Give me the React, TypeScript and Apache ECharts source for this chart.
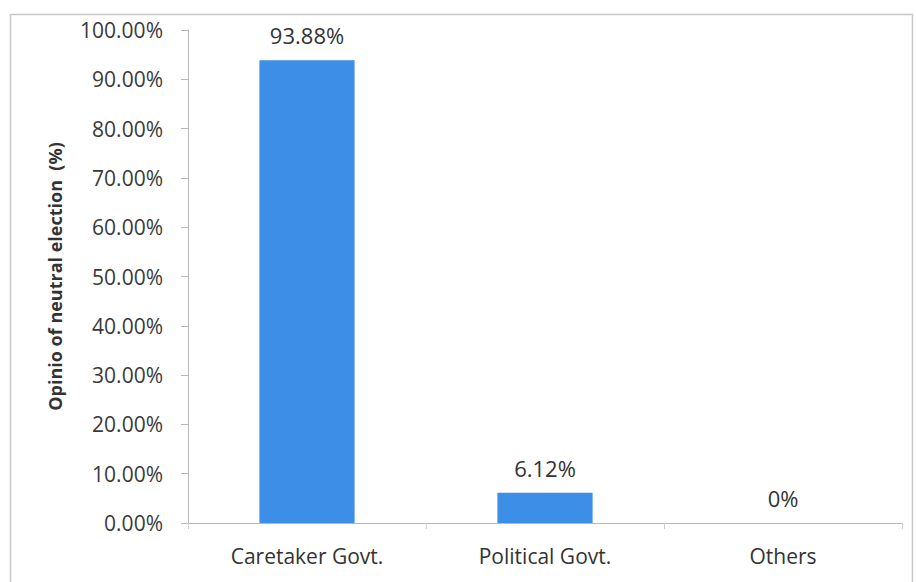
import React, { useEffect, useRef } from "react";
import * as echarts from "echarts";

const categories = ["Caretaker Govt.", "Political Govt.", "Others"];
const values = [93.88, 6.12, 0];
const valueLabels = ["93.88%", "6.12%", "0%"];
const yTicks = [0, 10, 20, 30, 40, 50, 60, 70, 80, 90, 100];
const yAxisTitle = "Opinio of neutral election  (%)";

export default function App() {
  const ref = useRef<HTMLDivElement>(null);
  useEffect(() => {
    if (!ref.current) return;
    const chart = echarts.init(ref.current, null, { renderer: "svg" });
    const font = "'Open Sans', Lato, sans-serif";
    chart.setOption({
      animation: false,
      backgroundColor: "#ffffff",
      graphic: [
        {
          type: "rect",
          left: 8,
          top: 12,
          shape: { width: 902, height: 580 },
          style: { fill: "none", stroke: "#c8c8c8", lineWidth: 1.5 },
          silent: true,
        },
      ],
      grid: { left: 188, right: 14, top: 30, bottom: 59, containLabel: false },
      xAxis: {
        type: "category",
        data: categories,
        axisLine: { lineStyle: { color: "#b8b8b8", width: 1 } },
        axisTick: { show: true, length: 6, alignWithLabel: false, lineStyle: { color: "#d0d0d0" } },
        axisLabel: { color: "#333333", fontFamily: font, fontSize: 21, margin: 22 },
      },
      yAxis: {
        type: "value",
        min: 0,
        max: 100,
        interval: 10,
        name: yAxisTitle,
        nameLocation: "middle",
        nameGap: 124,
        nameTextStyle: { color: "#333333", fontFamily: font, fontSize: 18, fontWeight: "bold" },
        axisLine: { show: true, lineStyle: { color: "#b8b8b8", width: 1 } },
        axisTick: { show: true, length: 7, lineStyle: { color: "#b8b8b8" } },
        splitLine: { show: false },
        axisLabel: {
          color: "#3a3a3a",
          fontFamily: font,
          fontSize: 21,
          margin: 25,
          formatter: (v: number) => (yTicks.includes(v) ? v.toFixed(2) + "%" : ""),
        },
      },
      series: [
        {
          type: "bar",
          data: values,
          barWidth: "40%",
          itemStyle: { color: "#3d8ee6" },
          label: {
            show: true,
            position: "top",
            distance: 14,
            color: "#333333",
            fontFamily: font,
            fontSize: 22,
            formatter: (p: any) => valueLabels[p.dataIndex],
          },
        },
      ],
    });
    return () => chart.dispose();
  }, []);
  return (
    <div
      ref={ref}
      style={{ position: "fixed", left: 0, top: 0, width: 916, height: 582, background: "#fff" }}
    />
  );
}
